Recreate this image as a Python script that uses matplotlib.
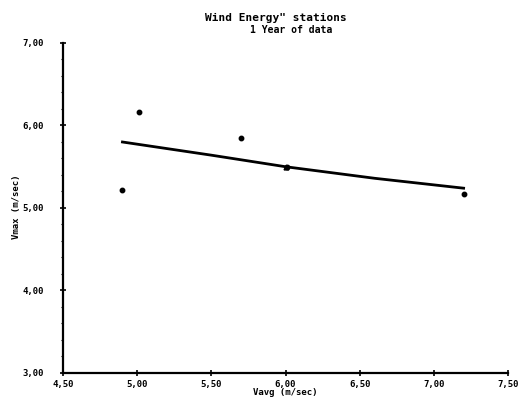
import matplotlib
matplotlib.use("Agg")
import matplotlib.pyplot as plt
from matplotlib.ticker import FixedLocator, MultipleLocator

# measured stations
vavg = [4.90, 5.01, 5.70, 6.01, 7.20]
vmax = [5.22, 6.16, 5.85, 5.50, 5.17]

# fitted curve
fit_x = [4.90, 5.50, 6.00, 6.60, 7.20]
fit_y = [5.80, 5.64, 5.50, 5.36, 5.24]

xticks = [4.5, 5.0, 5.5, 6.0, 6.5, 7.0, 7.5]
yticks = [3.0, 4.0, 5.0, 6.0, 7.0]

fnt = {"family": "DejaVu Sans Mono", "weight": "bold", "size": 6.5}

fig = plt.figure(figsize=(5.26, 3.97), dpi=100)
ax = fig.add_axes([0.12, 0.0605, 0.846, 0.8312])

ax.plot(fit_x, fit_y, color="black", lw=2.0)
ax.plot([6.0], [5.50], marker="^", color="black", ms=3.5, ls="none")
ax.plot(vavg, vmax, "o", color="black", ms=3.2)

ax.set_xlim(4.5, 7.5)
ax.set_ylim(3.0, 7.0)
ax.xaxis.set_major_locator(FixedLocator(xticks))
ax.yaxis.set_major_locator(FixedLocator(yticks))
ax.yaxis.set_minor_locator(MultipleLocator(0.2))
ax.set_xticklabels([f"{v:.2f}".replace(".", ",") for v in xticks], fontdict=fnt)
ax.set_yticklabels([f"{v:.2f}".replace(".", ",") for v in yticks], fontdict=fnt)

for s in ["top", "right"]:
    ax.spines[s].set_visible(False)
for s in ["left", "bottom"]:
    ax.spines[s].set_linewidth(1.6)
ax.tick_params(which="major", direction="inout", length=4, width=1.2)
ax.tick_params(axis="x", pad=3)
ax.tick_params(axis="y", pad=12)
ax.tick_params(which="minor", axis="y", direction="out", length=1.5, width=0.8)

ax.set_xlabel("Vavg (m/sec)", fontdict=fnt, labelpad=-1)
fig.text(16 / 526, 0.48, "Vmax (m/sec)", rotation=90, ha="center", va="center",
         **fnt)

fig.text(0.525, 0.955, 'Wind Energy" stations', ha="center", va="center",
         family="DejaVu Sans Mono", weight="bold", size=8)
fig.text(0.553, 0.925, "1 Year of data", ha="center", va="center",
         family="DejaVu Sans Mono", weight="bold", size=7)

fig.savefig("out.png", dpi=100)
